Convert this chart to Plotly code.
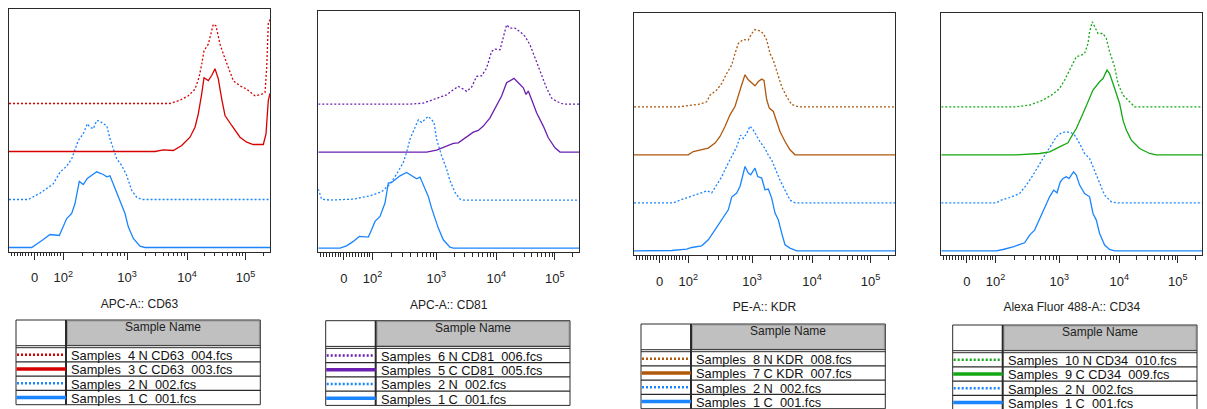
import numpy as np
import plotly.graph_objects as go

W, H = 1207, 409
FONT = "Liberation Sans, Arial, Helvetica, sans-serif"

# ------------------------------------------------------------------
# DATA  (x = logicle display channel 0..261, y = event count height)
# ------------------------------------------------------------------
# Panel 1 : APC-A :: CD63
cd63_c001_x = [0, 22.7, 34.3, 41, 50.3, 54.3, 57.7, 62.7, 66, 70.3, 74.3, 78.3, 87.7, 94.3, 97.7, 101, 106, 111, 116, 119.3, 124.3, 131, 136, 261]
cd63_c001_y = [0, 0, 8, 13, 12, 20.7, 29, 34, 44, 66, 63, 69, 75.7, 73, 70.7, 71.7, 59, 47, 34, 20.7, 9, 1.3, 0, 0]
cd63_n002_x = [0, 19.3, 31, 44.3, 51, 57.7, 62.7, 65, 69.3, 74.3, 78.3, 81, 84.3, 87.7, 91, 94.3, 97.7, 101, 104.3, 107.7, 112.7, 117.7, 122.7, 127.7, 132.7, 261]
cd63_n002_y = [0, 0, 6.3, 15.7, 27.3, 33.3, 40.7, 47.3, 59, 65.7, 75.7, 72.3, 70.7, 79, 78.3, 75.7, 74, 60.7, 50.7, 40.7, 34, 24, 9, 2.3, 0, 0]
cd63_c003_x = [0, 146, 154.3, 164.3, 172.7, 181, 186, 189.3, 192.7, 195, 199.3, 202.7, 206, 209.3, 212.7, 216, 222.7, 231, 237.7, 244.3, 254.3, 257, 259.3, 261]
cd63_c003_y = [0, 0, 1.7, 1, 6, 14.3, 24.3, 37.7, 57.7, 73.7, 71, 76, 82.7, 72.7, 52.7, 36, 26, 14.3, 9.3, 7, 7, 17.7, 51, 58]
cd63_n004_x = [0, 161, 171, 179.3, 186, 190, 192.7, 195, 199.3, 204.3, 207, 211, 215, 221, 224.3, 231, 237.7, 246, 252.7, 256, 257.7, 259.3, 261]
cd63_n004_y = [0, 0, 3.3, 7.7, 14.3, 26, 39.3, 52.7, 59.3, 79.3, 77.7, 59.3, 47.7, 32.7, 22.7, 17.7, 14.3, 7.7, 9.3, 11, 36, 80, 84]

# Panel 2 : APC-A :: CD81
cd81_c001_x = [0, 21.7, 28.3, 35, 41, 50, 53.3, 56.7, 61.7, 66.7, 70, 73.3, 76.7, 81.7, 88.3, 95, 98.3, 101.7, 105, 110, 113.3, 116.7, 120, 125, 131.7, 135, 261]
cd81_c001_y = [0, 0, 2.3, 6.7, 11.7, 11, 18.3, 26.7, 31.7, 45, 65, 65.7, 68.3, 72.3, 75.7, 71.7, 69.3, 71, 63.3, 51.7, 40, 30, 20, 8.3, 1, 0, 0]
cd81_n002_x = [0, 3.3, 11.7, 35, 51.7, 63.3, 71.7, 78.3, 85, 88.3, 91.7, 95, 98.3, 100, 103.3, 106.7, 110, 113.3, 115.7, 118.3, 123.3, 128.3, 131.7, 136.7, 141.7, 145, 261]
cd81_n002_y = [11, 1, 0, 1, 4.3, 8.3, 16, 26, 37.7, 47.7, 61, 69.3, 76, 80.3, 77.7, 81, 83.7, 80.3, 77.7, 61, 44.3, 31, 19.3, 7.7, 1, 0, 0]
cd81_c005_x = [0, 108.3, 118.3, 128.3, 135, 140, 148.3, 155, 160, 165, 171.7, 178.3, 183.3, 188.3, 191.7, 195.7, 200, 205, 207.7, 210, 213.3, 218.3, 225, 230, 236.7, 241.7, 261]
cd81_c005_y = [0, 0, 2, 6, 8.7, 9.3, 15.3, 20, 21.7, 26, 34.3, 46, 56, 69.3, 71, 73.7, 69.3, 64.3, 57.7, 61, 52.7, 39.3, 26, 14.3, 4.3, 0, 0]
cd81_n006_x = [0, 91.7, 105, 118.3, 128.3, 135, 140, 145, 148.3, 153.3, 158.3, 163.3, 168.3, 173.3, 176.7, 181.7, 183.3, 186.7, 188.3, 191.7, 196.7, 203.3, 206.7, 211.7, 215, 221.7, 228.3, 233.3, 238.3, 245, 261]
cd81_n006_y = [0, 0, 1, 6, 9.3, 14.3, 17.7, 15, 12.7, 17, 27.7, 28.3, 36, 52.7, 55, 54.3, 61, 74.3, 79.3, 76, 76, 71, 67.7, 59.3, 51, 34.3, 16, 6, 2.7, 0, 0]

# Panel 3 : PE-A :: KDR
kdr_c001_x = [0, 37.7, 52.7, 57.7, 67.7, 74.3, 81, 87.7, 94.3, 97.7, 102.7, 106, 109.3, 111, 114.3, 116.7, 121, 123.7, 127.7, 131, 134.3, 137.7, 141, 144.3, 147.7, 151, 156, 162.7, 261]
kdr_c001_y = [0, 0.3, 1.7, 3.3, 5, 11, 21, 31, 41, 53.7, 57.7, 64.3, 77.7, 84.3, 77.7, 76, 82.7, 74.3, 72.7, 61, 61.7, 52.7, 37.7, 31, 17.7, 6, 2.7, 0, 0]
kdr_n002_x = [0, 39.3, 46, 56, 66, 73.3, 77.7, 82.7, 87.7, 92.7, 97.7, 102.7, 106.7, 109.3, 112.7, 116, 119.3, 122.7, 126, 131, 134.3, 137.7, 141, 146, 151, 156, 161, 261]
kdr_n002_y = [0, 0, 2.7, 6, 10, 12, 10, 17.7, 26, 36.7, 46, 56, 67.7, 64.3, 69.3, 76.7, 72.7, 66, 61, 54.3, 47.7, 42.7, 34.3, 22.7, 12.7, 2.7, 0, 0]
kdr_c007_x = [0, 54.3, 59.3, 66, 74.3, 81, 86, 91, 96, 101, 104.3, 107.7, 111, 114.3, 121, 124.3, 127.7, 130, 132.7, 135.3, 139.3, 142.7, 146, 151, 156, 161, 261]
kdr_c007_y = [0, 0, 3.3, 5, 6.7, 11.7, 18.3, 28.3, 40, 48.3, 60, 70, 80, 75, 69, 73.3, 75.7, 74.3, 55, 46.7, 43.3, 33.3, 23.3, 13.3, 5, 0, 0]
kdr_n008_x = [0, 46, 57.7, 66, 72.7, 76, 82.7, 87.7, 92.7, 97.7, 101, 104.3, 109.3, 114.3, 117.7, 121, 126, 129.3, 132.7, 136, 139.3, 144.3, 147.7, 152.7, 157.7, 164.3, 261]
kdr_n008_y = [0, 0, 1.7, 2.7, 5, 11.7, 16.7, 23.3, 33.3, 41.7, 53.3, 63.3, 67.3, 66.7, 73.3, 77.3, 76, 73.3, 66.7, 53.3, 46.7, 31.7, 20, 10, 2.3, 0, 0]

# Panel 4 : Alexa Fluor 488-A :: CD34
cd34_c001_x = [0, 55, 61.7, 71.7, 83.3, 88.3, 93.3, 98.3, 103.3, 108.3, 112.3, 115.7, 119, 121.7, 125, 127.7, 130, 132.3, 135, 138.3, 143.3, 148.3, 151.7, 155, 158.3, 163.3, 168.3, 173.3, 261]
cd34_c001_y = [0, 0, 1.3, 4, 8, 15.7, 20.7, 32.3, 42.3, 54, 60.7, 58, 69, 72.3, 74, 72.3, 75.7, 79, 75.7, 65.7, 57.3, 54, 37.3, 30.7, 17.3, 5.7, 1.3, 0, 0]
cd34_n002_x = [0, 55, 60, 68.3, 78.3, 85, 91.7, 98.3, 105, 110, 115, 120, 125, 130, 133.3, 138.3, 143.3, 148.3, 153.3, 158.3, 163.3, 170, 175, 261]
cd34_n002_y = [0, 0, 2.7, 5.3, 9.3, 17.7, 27.7, 39.3, 50, 57.7, 66, 70, 71, 70, 67.7, 59.3, 49.3, 44.3, 32.7, 21, 7.7, 1, 0, 0]
cd34_c009_x = [0, 75, 98.3, 108.3, 118.3, 126.7, 130, 135, 141.7, 146.7, 151.7, 158.3, 161.7, 165.7, 168.3, 171.7, 175, 178.3, 181.7, 185, 190, 198.3, 208.3, 215, 261]
cd34_c009_y = [0, 0, 1.3, 3, 8, 12, 18, 26.3, 41.3, 53, 64.7, 73, 76.3, 84.7, 81.3, 71.3, 61.3, 51.3, 34.7, 24.7, 14.7, 6.3, 1.3, 0, 0]
cd34_n010_x = [0, 75, 88.3, 101.7, 111.7, 118.3, 123.3, 128.3, 132.3, 135, 140, 143.3, 146.7, 148.3, 151, 153.3, 156.7, 161.7, 165, 168.3, 173.3, 176.7, 181.7, 188.3, 193.3, 261]
cd34_n010_y = [0, 0, 1.7, 6.7, 12.7, 18.3, 26.7, 36.7, 43.3, 50, 51.7, 53.3, 63.3, 75, 85, 80, 73.3, 73.3, 68.3, 55, 40, 23.3, 11.7, 5, 0, 0]

axis_titles = ["APC-A:: CD63", "APC-A:: CD81", "PE-A:: KDR", "Alexa Fluor 488-A:: CD34"]
sample_names = [
    ["Samples\u00a0 4 N CD63\u00a0 004.fcs", "Samples\u00a0 3 C CD63\u00a0 003.fcs", "Samples\u00a0 2 N\u00a0 002.fcs", "Samples\u00a0 1 C\u00a0 001.fcs"],
    ["Samples\u00a0 6 N CD81\u00a0 006.fcs", "Samples\u00a0 5 C CD81\u00a0 005.fcs", "Samples\u00a0 2 N\u00a0 002.fcs", "Samples\u00a0 1 C\u00a0 001.fcs"],
    ["Samples\u00a0 8 N KDR\u00a0 008.fcs", "Samples\u00a0 7 C KDR\u00a0 007.fcs", "Samples\u00a0 2 N\u00a0 002.fcs", "Samples\u00a0 1 C\u00a0 001.fcs"],
    ["Samples\u00a0 10 N CD34\u00a0 010.fcs", "Samples\u00a0 9 C CD34\u00a0 009.fcs", "Samples\u00a0 2 N\u00a0 002.fcs", "Samples\u00a0 1 C\u00a0 001.fcs"],
]

# axis tick labels (logicle display positions)
tick_pos = [25.5, 54.3, 118, 178, 236.5]
tick_text = ["0", "10<sup>2</sup>", "10<sup>3</sup>", "10<sup>4</sup>", "10<sup>5</sup>"]

# ------------------------------------------------------------------
# STYLE / LAYOUT
# ------------------------------------------------------------------
BLUE = "#1a85ff"
RED = "#d60000"
PURPLE = "#6a1fb0"
BROWN = "#b0580c"
GREEN = "#15a815"
XMAX = 261
BASE = 4.2
STEP = 48
DOT = "2px,2px"

panels = [
    dict(left=9, top=9, bottom=251.7, color=RED,
         curves=[(cd63_c001_x, cd63_c001_y), (cd63_n002_x, cd63_n002_y), (cd63_c003_x, cd63_c003_y), (cd63_n004_x, cd63_n004_y)],
         tleft=16, ttop=320),
    dict(left=318.3, top=11, bottom=252.3, color=PURPLE,
         curves=[(cd81_c001_x, cd81_c001_y), (cd81_n002_x, cd81_n002_y), (cd81_c005_x, cd81_c005_y), (cd81_n006_x, cd81_n006_y)],
         tleft=325.7, ttop=320.7),
    dict(left=634, top=12.7, bottom=255, color=BROWN,
         curves=[(kdr_c001_x, kdr_c001_y), (kdr_n002_x, kdr_n002_y), (kdr_c007_x, kdr_c007_y), (kdr_n008_x, kdr_n008_y)],
         tleft=641, ttop=324),
    dict(left=941.3, top=12.7, bottom=255, color=GREEN,
         curves=[(cd34_c001_x, cd34_c001_y), (cd34_n002_x, cd34_n002_y), (cd34_c009_x, cd34_c009_y), (cd34_n010_x, cd34_n010_y)],
         tleft=952.7, ttop=325),
]

# minor ticks: linear region around 0, then logarithmic decades
decades = [(54.3, 63.7), (118, 60), (178, 58.5), (236.5, 58.5)]
minor_vals = [25.5 + 2.9 * k for k in range(-8, 10) if k != 0]
for start, width in decades:
    for k in range(2, 10):
        v = start + width * np.log10(k)
        if v < XMAX:
            minor_vals.append(float(v))


def px(x):
    return x / W


def py(y):
    return 1 - y / H


fig = go.Figure()
layout = dict(width=W, height=H, margin=dict(l=0, r=0, t=0, b=0),
              paper_bgcolor="white", plot_bgcolor="white", showlegend=False,
              font=dict(family=FONT, color="#222"))
shapes, annots = [], []
LINE = "#2a2a2a"

for i, p in enumerate(panels):
    sfx = "" if i == 0 else str(i + 1)
    xa, ya = "x" + sfx, "y" + sfx
    ph = p["bottom"] - p["top"]
    styles = [(BLUE, "solid"), (BLUE, DOT), (p["color"], "solid"), (p["color"], DOT)]
    for j, ((xs, ys), (col, dash)) in enumerate(zip(p["curves"], styles)):
        base = BASE + j * STEP
        fig.add_trace(go.Scatter(
            x=xs, y=[base + v for v in ys], mode="lines",
            line=dict(color=col, width=1.3, dash=dash, shape="linear"),
            xaxis=xa, yaxis=ya, hoverinfo="skip"))
    layout["xaxis" + sfx] = dict(
        domain=[px(p["left"]), px(p["left"] + XMAX)], range=[0, XMAX], anchor=ya,
        showgrid=False, zeroline=False, showline=True, mirror=True, linecolor=LINE, linewidth=1,
        ticks="outside", ticklen=7, tickwidth=1, tickcolor=LINE,
        tickmode="array", tickvals=tick_pos, ticktext=tick_text,
        tickfont=dict(size=13, color="#222", family=FONT), ticklabelstandoff=7,
        minor=dict(tickmode="array", tickvals=minor_vals, ticks="outside", ticklen=3.5, tickwidth=1, tickcolor=LINE, showgrid=False),
        title=dict(text=axis_titles[i], font=dict(size=12, color="#222", family=FONT), standoff=15),
        fixedrange=True)
    layout["yaxis" + sfx] = dict(
        domain=[py(p["bottom"]), py(p["top"])], range=[0, ph], anchor=xa,
        showgrid=False, zeroline=False, showline=True, mirror=True, linecolor=LINE, linewidth=1,
        showticklabels=False, ticks="", fixedrange=True)

    # ---- legend table ----
    L, T = p["tleft"], p["ttop"]
    R = L + 244.3
    C = L + 50
    HB = T + 27.7
    RH = 14.25
    B = HB + 4 * RH
    # gray header cell
    shapes.append(dict(type="rect", xref="paper", yref="paper", x0=px(C + 1.5), x1=px(R - 1), y0=py(HB - 2.5), y1=py(T + 1),
                       fillcolor="#c0c0c0", line=dict(color="#9c9c9c", width=1)))
    # outer frame
    shapes.append(dict(type="rect", xref="paper", yref="paper", x0=px(L), x1=px(R), y0=py(B), y1=py(T),
                       line=dict(color=LINE, width=1), fillcolor="rgba(0,0,0,0)"))
    # column divider
    shapes.append(dict(type="line", xref="paper", yref="paper", x0=px(C), x1=px(C), y0=py(B), y1=py(T),
                       line=dict(color=LINE, width=2)))
    # double line under header
    for yy in (HB - 2, HB):
        shapes.append(dict(type="line", xref="paper", yref="paper", x0=px(L), x1=px(R), y0=py(yy), y1=py(yy),
                           line=dict(color=LINE, width=1)))
    for r in range(1, 4):
        yy = HB + r * RH
        shapes.append(dict(type="line", xref="paper", yref="paper", x0=px(L), x1=px(R), y0=py(yy), y1=py(yy),
                           line=dict(color=LINE, width=1.3)))
    annots.append(dict(text="Sample Name", xref="paper", yref="paper", x=px((C + R) / 2), y=py(T + 7),
                       xanchor="center", yanchor="middle", showarrow=False, font=dict(size=12, color="#222", family=FONT)))
    row_styles = [(p["color"], DOT), (p["color"], "solid"), (BLUE, DOT), (BLUE, "solid")]
    for r, (name, (col, dash)) in enumerate(zip(sample_names[i], row_styles)):
        yc = HB + r * RH + RH / 2
        if dash == "solid":
            shapes.append(dict(type="line", xref="paper", yref="paper", x0=px(L + 0.5), x1=px(C), y0=py(yc), y1=py(yc),
                               line=dict(color=col, width=3.5)))
        else:
            shapes.append(dict(type="line", xref="paper", yref="paper", x0=px(L + 1), x1=px(C - 3), y0=py(yc), y1=py(yc),
                               line=dict(color=col, width=2.5, dash=DOT)))
        annots.append(dict(text=name, xref="paper", yref="paper", x=px(C + 3), y=py(yc + 0.8),
                           xanchor="left", yanchor="middle", showarrow=False,
                           font=dict(size=12.8, color="#111", family=FONT)))

layout["shapes"] = shapes
layout["annotations"] = annots
fig.update_layout(**layout)
fig.write_html("out.html")
